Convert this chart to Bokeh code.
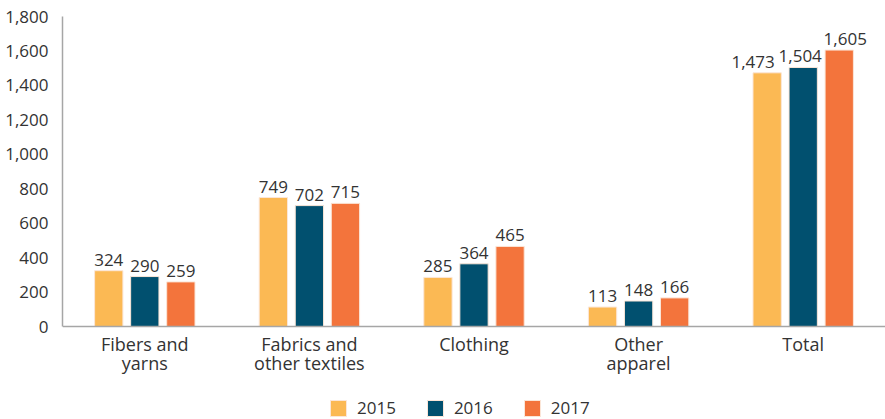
from bokeh.plotting import figure
from bokeh.models import (ColumnDataSource, Legend, LegendItem, NumeralTickFormatter,
                          FixedTicker, Range1d, LabelSet, Span)
from bokeh.transform import dodge
from bokeh.core.properties import value
from bokeh.embed import file_html
from bokeh.resources import INLINE

categories = ["Fibers and yarns", "Fabrics and other textiles", "Clothing", "Other apparel", "Total"]
label_line1 = ["Fibers and", "Fabrics and", "Clothing", "Other", "Total"]
label_line2 = ["yarns", "other textiles", "", "apparel", ""]
years = ["2015", "2016", "2017"]
v2015 = [324, 749, 285, 113, 1473]
v2016 = [290, 702, 364, 148, 1504]
v2017 = [259, 715, 465, 166, 1605]
colors = ["#FBB954", "#01506F", "#F3743C"]
y_ticks = [0, 200, 400, 600, 800, 1000, 1200, 1400, 1600, 1800]

# style: horizontal nudge (px) of value labels per year, to avoid overlap in the Total group
nudge = {"2015": {"Total": -14}, "2016": {"Total": -3}, "2017": {"Total": 6}}

FONT = "Open Sans"
TXT = "#333333"
AXIS = "#A6A6A6"
data = dict(cat=categories, v2015=v2015, v2016=v2016, v2017=v2017,
            line1=label_line1, line2=label_line2, zero=[0] * len(categories))
for yr, vals in zip(years, (v2015, v2016, v2017)):
    data["l" + yr] = [f"{v:,}" for v in vals]
    data["dx" + yr] = [nudge[yr].get(c, 0) for c in categories]
src = ColumnDataSource(data)

# y range extends below zero so that category labels and legend sit inside the frame
p = figure(x_range=categories, y_range=Range1d(-540, 1800), width=885, height=419,
           output_backend="svg", toolbar_location=None,
           min_border_left=62, min_border_right=0, min_border_top=16, min_border_bottom=0)
p.outline_line_color = None
p.xgrid.grid_line_color = None
p.ygrid.grid_line_color = None
p.x_range.range_padding = 0
p.xaxis.visible = False

items = []
offsets = [-0.219, 0.0, 0.219]
for yr, col, off in zip(years, colors, offsets):
    r = p.vbar(x=dodge("cat", off, range=p.x_range), top="v" + yr, bottom=0, width=0.172, source=src,
               fill_color=col, line_color="#FBE6D8", line_width=1)
    p.add_layout(LabelSet(x=dodge("cat", off, range=p.x_range), y="v" + yr, text="l" + yr, source=src,
                          text_align="center", text_baseline="alphabetic", y_offset=5, x_offset="dx" + yr,
                          text_font=value(FONT), text_font_size="17px", text_color=TXT))
    items.append(LegendItem(label=yr, renderers=[r]))

p.add_layout(Span(location=0, dimension="width", line_color=AXIS, line_width=1.5))

for col, off in (("line1", -24), ("line2", -43)):
    p.add_layout(LabelSet(x="cat", y="zero", text=col, source=src, y_offset=off,
                          text_align="center", text_baseline="alphabetic",
                          text_font=value(FONT), text_font_size="18px", text_color=TXT))

ya = p.yaxis[0]
ya.ticker = FixedTicker(ticks=y_ticks)
ya.formatter = NumeralTickFormatter(format="0,0")
ya.bounds = (0, 1800)
ya.axis_line_color = AXIS
ya.axis_line_width = 1.5
ya.major_tick_line_color = None
ya.minor_tick_line_color = None
ya.major_tick_out = 0
ya.major_tick_in = 0
ya.major_label_text_font = FONT
ya.major_label_text_font_size = "17px"
ya.major_label_text_color = TXT
ya.major_label_standoff = 14

legend = Legend(items=items, orientation="horizontal", location=(266, 0),
                label_text_font=FONT, label_text_font_size="17px", label_text_color=TXT,
                glyph_width=20, glyph_height=20, spacing=29, label_standoff=9,
                border_line_color=None, background_fill_alpha=0, padding=0, margin=0)
p.add_layout(legend)

open("out.html", "w").write(file_html(p, INLINE))
